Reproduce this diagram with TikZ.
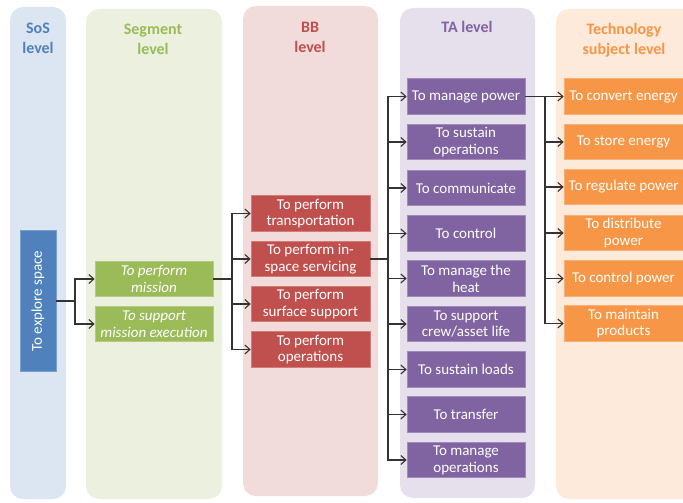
\documentclass[tikz,border=0pt]{standalone}
\usepackage{fontspec}
\setmainfont{Carlito}
\usetikzlibrary{arrows.meta}

% level colours
\definecolor{sosbg}{HTML}{DCE6F2}
\definecolor{segbg}{HTML}{EBF1DE}
\definecolor{bbbg}{HTML}{F2DCDB}
\definecolor{tabg}{HTML}{E5E0EC}
\definecolor{techbg}{HTML}{FDEADA}
\definecolor{sos}{HTML}{4F81BD}
\definecolor{seg}{HTML}{9BBB59}
\definecolor{bb}{HTML}{C0504D}
\definecolor{ta}{HTML}{8064A2}
\definecolor{tech}{HTML}{F79646}
\definecolor{wire}{HTML}{333333}

\begin{document}
\begin{tikzpicture}[x=1pt,y=-1pt,
  panel/.style={fill=#1, rounded corners=13pt},
  header/.style={text=#1, font=\fontsize{16}{20}\selectfont\bfseries, align=center, inner sep=0pt},
  boxfont/.style={font=\fontsize{15}{16.8}\selectfont},
  box/.style={fill=#1, draw=#1!75!white, line width=0.7pt, text=white,
    boxfont, align=center, inner sep=0pt,
    minimum width=119pt, minimum height=35.5pt},
  segbox/.style={box=seg, minimum width=118pt, font=\fontsize{15}{16.8}\selectfont\itshape},
  wire/.style={draw=wire, line width=1.2pt},
  arr/.style={wire, -{Straight Barb[length=5pt,width=9pt,line width=1.1pt]}}
]
\useasboundingbox (0,0) rectangle (683,503);
\clip (0,0) rectangle (683,503);

% background columns
\fill[panel=sosbg]  (10,7)  rectangle (66,499);
\fill[panel=segbg]  (86,9)  rectangle (222,499);
\fill[panel=bbbg]   (243,6) rectangle (378,496);
\fill[panel=tabg]   (400,8) rectangle (535,498);
\fill[panel=techbg] (556,9) rectangle (710,499);

% column headers
\node[header=sos]  (hsos)  at (38,38.5)  {SoS\\level};
\node[header=seg]  (hseg)  at (153,39.5) {Segment\\level};
\node[header=bb]   (hbb)   at (310,37)   {BB\\level};
\node[header=ta]   (hta)   at (467,27)   {TA level};
\node[header=tech] (htech) at (624,40)   {Technology\\subject level};

% SoS level
\node[box=sos, minimum width=36pt, minimum height=141pt] (explore) at (38,301) {};
\node[text=white, boxfont, rotate=90] (exploretxt) at (explore.center) {To explore space};

% Segment level
\node[segbox] (mission) at (154,279) {To perform\\mission};
\node[segbox] (support) at (154,324) {To support\\mission execution};

% BB level
\node[box=bb] (bb1) at (310.5,213.5) {To perform\\transportation};
\node[box=bb] (bb2) at (310.5,259)   {To perform in-\\space servicing};
\node[box=bb] (bb3) at (310.5,304)   {To perform\\surface support};
\node[box=bb] (bb4) at (310.5,349.5) {To perform\\operations};

% TA level
\node[box=ta, minimum width=118pt] (ta1) at (466,96.5)  {To manage power};
\node[box=ta, minimum width=118pt] (ta2) at (466,142)   {To sustain\\operations};
\node[box=ta, minimum width=118pt] (ta3) at (466,188)   {To communicate};
\node[box=ta, minimum width=118pt] (ta4) at (466,233.5) {To control};
\node[box=ta, minimum width=118pt] (ta5) at (466,278.5) {To manage the\\heat};
\node[box=ta, minimum width=118pt] (ta6) at (466,324)   {To support\\crew/asset life};
\node[box=ta, minimum width=118pt] (ta7) at (466,369.5) {To sustain loads};
\node[box=ta, minimum width=118pt] (ta8) at (466,414.5) {To transfer};
\node[box=ta, minimum width=118pt] (ta9) at (466,460)   {To manage\\operations};

% Technology subject level
\node[box=tech] (te1) at (623.5,96.5)  {To convert energy};
\node[box=tech] (te2) at (623.5,142)   {To store energy};
\node[box=tech] (te3) at (623.5,187)   {To regulate power};
\node[box=tech] (te4) at (623.5,233)   {To distribute\\power};
\node[box=tech] (te5) at (623.5,278.5) {To control power};
\node[box=tech] (te6) at (623.5,323.5) {To maintain\\products};

% branching points
\coordinate (j1) at (75,301);
\coordinate (j2) at (232,279);
\coordinate (j3) at (388,259);
\coordinate (j4) at (545,96.5);

% connectors
\draw[wire] (explore.east) -- (j1);
\foreach \t in {mission,support} \draw[arr] (j1) |- (\t.west);

\draw[wire] (mission.east) -- (j2);
\foreach \t in {bb1,bb2,bb3,bb4} \draw[arr] (j2) |- (\t.west);

\draw[wire] (bb2.east) -- (j3);
\foreach \t in {ta1,ta2,ta3,ta4,ta5,ta6,ta7,ta8,ta9} \draw[arr] (j3) |- (\t.west);

\draw[wire] (ta1.east) -- (j4);
\foreach \t in {te1,te2,te3,te4,te5,te6} \draw[arr] (j4) |- (\t.west);
\end{tikzpicture}
\end{document}
